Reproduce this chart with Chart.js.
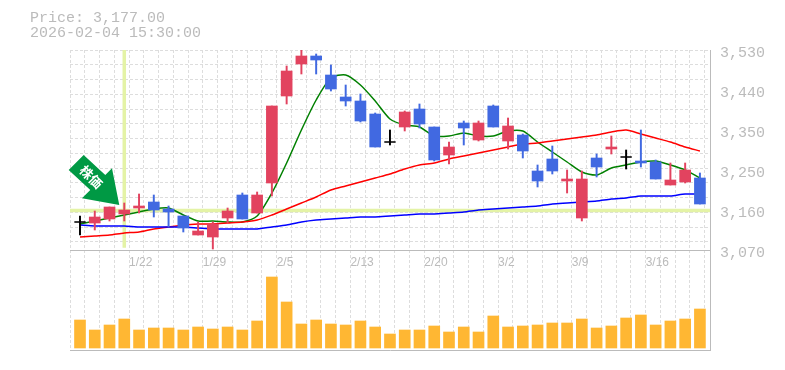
<!DOCTYPE html>
<html>
<head>
<meta charset="utf-8">
<script src="https://cdn.jsdelivr.net/npm/chart.js@4"></script>
<style>
    body { margin: 0; background: #ffffff; }
    #priceInfo {
        position: absolute;
        left: 30px;
        top: 11px;
        font: 15px/15px "Liberation Mono", monospace;
        color: #bbbbbb;
        white-space: pre;
    }
</style>
</head>
<body>
<div id="priceInfo">Price: 3,177.00
2026-02-04 15:30:00</div>
<canvas id="stockChart" width="785" height="370"></canvas>
<script>
const categories = [
    "1/16", "1/19", "1/20", "1/21", "1/22", "1/23", "1/26", "1/27", "1/28", "1/29", "1/30",
    "2/2", "2/3", "2/4", "2/5", "2/6", "2/9", "2/10", "2/12", "2/13", "2/16", "2/17",
    "2/18", "2/19", "2/20", "2/24", "2/25", "2/26", "2/27", "3/2", "3/3", "3/4", "3/5",
    "3/6", "3/9", "3/10", "3/11", "3/12", "3/13", "3/16", "3/17", "3/18", "3/19"
];

const openPrices = [
    3134.4, 3132.1, 3141.3, 3152.8, 3166.6, 3180.4, 3164.3, 3148.2, 3104.5, 3099.9, 3143.6,
    3196.5, 3155.1, 3224.1, 3424.2, 3497.8, 3516.2, 3472.5, 3421.9, 3412.7, 3382.8, 3318.4,
    3352.9, 3394.3, 3352.9, 3288.5, 3362.1, 3323, 3401.2, 3320.7, 3334.5, 3251.7, 3279.3,
    3228.7, 3143.6, 3281.6, 3302.3, 3283.9, 3274.7, 3272.4, 3219.5, 3226.4, 3235.6
];
const closePrices = [
    3134.4, 3145.9, 3168.9, 3162, 3171.2, 3162, 3157.4, 3120.6, 3113.7, 3129.8, 3159.7,
    3141.3, 3196.5, 3401.2, 3481.7, 3516.2, 3507, 3440.3, 3412.7, 3366.7, 3306.9, 3318.4,
    3387.4, 3359.8, 3277, 3306.9, 3350.6, 3362.1, 3352.9, 3355.2, 3297.7, 3228.7, 3251.7,
    3233.3, 3233.3, 3260.9, 3306.9, 3283.9, 3270.1, 3233.3, 3231, 3254, 3175.8
];
const highPrices = [
    3148.2, 3159.7, 3168.9, 3178.1, 3198.8, 3196.5, 3171.2, 3148.2, 3134.4, 3134.4, 3166.6,
    3201.1, 3203.4, 3401.2, 3493.2, 3530, 3520.8, 3495.5, 3449.5, 3428.8, 3385.1, 3346,
    3389.7, 3405.8, 3352.9, 3318.4, 3366.7, 3366.7, 3403.5, 3373.6, 3336.8, 3265.5, 3309.2,
    3254, 3251.7, 3290.8, 3332.2, 3300, 3346, 3277, 3270.1, 3270.1, 3247.1
];
const lowPrices = [
    3104.5, 3116, 3136.7, 3136.7, 3155.1, 3145.9, 3122.9, 3111.4, 3104.5, 3072.3, 3132.1,
    3141.3, 3155.1, 3194.2, 3405.8, 3474.8, 3474.8, 3435.7, 3401.2, 3364.4, 3306.9, 3311.5,
    3343.7, 3350.6, 3274.7, 3267.8, 3311.5, 3320.7, 3352.9, 3302.3, 3281.6, 3214.9, 3244.8,
    3201.1, 3136.7, 3237.9, 3290.8, 3256.3, 3260.9, 3233.3, 3219.5, 3224.1, 3175.8
];

const shortAverage = [
    3129.8, 3136.7, 3143.6, 3150.5, 3157.4, 3164.3, 3166.6, 3150.5, 3136.7, 3136.7, 3134.4,
    3134.4, 3148.2, 3201.1, 3270.1, 3346, 3415, 3465.6, 3472.5, 3449.5, 3412.7, 3371.3,
    3357.5, 3352.9, 3332.2, 3332.2, 3339.1, 3332.2, 3332.2, 3343.7, 3343.7, 3318.4, 3295.4,
    3272.4, 3249.4, 3242.5, 3258.6, 3265.5, 3272.4, 3274.7, 3265.5, 3254, 3235.6
];
const midAverage = [
    3099.9, 3102.2, 3104.5, 3109.1, 3111.4, 3118.3, 3122.9, 3127.5, 3129.8, 3129.8, 3132.1,
    3134.4, 3139, 3150.5, 3164.3, 3178.1, 3191.9, 3208, 3217.2, 3226.4, 3235.6, 3244.8,
    3256.3, 3265.5, 3270.1, 3279.3, 3286.2, 3293.1, 3300, 3306.9, 3313.8, 3316.1, 3320.7,
    3325.3, 3329.9, 3334.5, 3341.4, 3346, 3336.8, 3327.6, 3318.4, 3306.9, 3297.7
];
const longAverage = [
    3127.5, 3125.2, 3125.2, 3125.2, 3122.9, 3122.9, 3122.9, 3122.9, 3120.6, 3118.3, 3118.3,
    3118.3, 3118.3, 3122.9, 3127.5, 3134.4, 3139, 3141.3, 3143.6, 3145.9, 3145.9, 3148.2,
    3150.5, 3152.8, 3152.8, 3155.1, 3157.4, 3162, 3164.3, 3166.6, 3168.9, 3171.2, 3175.8,
    3178.1, 3180.4, 3182.7, 3187.3, 3189.6, 3194.2, 3194.2, 3194.2, 3198.8, 3198.8
];

const volumes = [
    2800, 1800, 2300, 2900, 1800, 2000, 2000, 1800, 2100, 1900, 2100,
    1800, 2700, 7100, 4600, 2400, 2800, 2400, 2300, 2700, 2100, 1400,
    1800, 1800, 2200, 1600, 2100, 1600, 3200, 2100, 2200, 2300, 2500,
    2500, 2900, 2000, 2200, 3000, 3300, 2300, 2700, 2900, 3900
];

const priceTicks = [3530, 3438, 3346, 3254, 3162, 3070];
const priceTickLabels = ["3,530", "3,440", "3,350", "3,250", "3,160", "3,070"];

const cursorIndex = 3;
const cursorPrice = 3160.9;

const RED = "#e2435f";
const BLUE = "#4169e1";
const GRID = "#dddddd";
const FRAME = "#bbbbbb";
const CURSOR = "#e4f3a6";

const PX_PER_BAR = 14.76;
const xMin = -10 / PX_PER_BAR;
const xMax = 630 / PX_PER_BAR;

function candleColor(i) {
    if (openPrices[i] === closePrices[i]) return "#000000";
    return closePrices[i] > openPrices[i] ? RED : BLUE;
}

function lineDataset(values, color) {
    return {
        type: "line",
        data: values.map((v, i) => ({ x: i, y: v })),
        borderColor: color,
        borderWidth: 1.5,
        pointRadius: 0,
        tension: 0.25,
        order: 5
    };
}

const framePlugin = {
    id: "frame",
    beforeDatasetsDraw(chart) {
        const { ctx, chartArea, scales } = chart;
        const midY = Math.round(scales.y.getPixelForValue(3070)) + 0.5;
        ctx.save();
        ctx.strokeStyle = FRAME;
        ctx.lineWidth = 1;
        ctx.beginPath();
        ctx.moveTo(chartArea.left, midY);
        ctx.lineTo(chartArea.right, midY);
        ctx.moveTo(chartArea.left, chartArea.bottom + 0.5);
        ctx.lineTo(chartArea.right + 1, chartArea.bottom + 0.5);
        ctx.moveTo(chartArea.right + 0.5, chartArea.top);
        ctx.lineTo(chartArea.right + 0.5, chartArea.bottom);
        ctx.stroke();
        ctx.restore();
    }
};

// green marker pointing at the selected candle
const arrowPlugin = {
    id: "arrow",
    afterDatasetsDraw(chart) {
        const { ctx, scales } = chart;
        const tipX = scales.x.getPixelForValue(cursorIndex) - 5;
        const tipY = scales.y.getPixelForValue(highPrices[cursorIndex]) + 2;
        const shape = [[-50.6, -35], [-35.6, -50], [-14, -30], [-7.3, -36.7], [0, 0], [-37.3, -6.7], [-29, -15]];

        ctx.save();
        ctx.translate(tipX, tipY);
        ctx.fillStyle = "#009944";
        ctx.beginPath();
        shape.forEach(p => ctx.lineTo(p[0], p[1]));
        ctx.closePath();
        ctx.fill();

        ctx.translate(-28, -28);
        ctx.rotate(Math.PI / 4);
        ctx.fillStyle = "#ffffff";
        ctx.font = 'bold 13px "Noto Sans CJK JP"';
        ctx.textAlign = "center";
        ctx.textBaseline = "middle";
        ctx.fillText("株価", 0, 0);
        ctx.restore();
    }
};

const ctx = document.getElementById("stockChart").getContext("2d");

new Chart(ctx, {
    data: {
        datasets: [
            {
                type: "line",
                data: [{ x: xMin, y: cursorPrice }, { x: xMax, y: cursorPrice }],
                borderColor: CURSOR,
                borderWidth: 3.5,
                pointRadius: 0,
                order: 10
            },
            {
                type: "line",
                data: [{ x: cursorIndex, y: 3530 }, { x: cursorIndex, y: 3075 }],
                borderColor: CURSOR,
                borderWidth: 3.5,
                pointRadius: 0,
                order: 10
            },
            {
                type: "bar",
                yAxisID: "yVol",
                data: volumes.map((v, i) => ({ x: i, y: v })),
                backgroundColor: "#ffb733",
                barThickness: 11,
                grouped: false,
                order: 8
            },
            lineDataset(longAverage, "#0000ff"),
            lineDataset(midAverage, "#ff0000"),
            lineDataset(shortAverage, "#008000"),
            {
                type: "bar",
                data: categories.map((c, i) => ({ x: i, y: [lowPrices[i], highPrices[i]] })),
                backgroundColor: categories.map((c, i) => candleColor(i)),
                barThickness: 1.3,
                grouped: false,
                order: 3
            },
            {
                type: "bar",
                data: categories.map((c, i) => ({ x: i, y: [openPrices[i], closePrices[i]] })),
                backgroundColor: categories.map((c, i) => candleColor(i)),
                barThickness: 11,
                grouped: false,
                order: 2
            },
            {
                // doji candles have no body, only a flat mark
                type: "line",
                data: categories
                    .map((c, i) => ({ x: i, y: closePrices[i] }))
                    .filter(p => openPrices[p.x] === closePrices[p.x]),
                showLine: false,
                pointStyle: "line",
                pointRadius: 5.5,
                pointBorderWidth: 1.3,
                pointBorderColor: "#000000",
                order: 1
            }
        ]
    },
    options: {
        responsive: false,
        animation: false,
        events: [],
        layout: {
            padding: { left: 70, top: 50, right: 0, bottom: 20 }
        },
        plugins: {
            legend: { display: false },
            tooltip: { enabled: false }
        },
        scales: {
            x: {
                type: "linear",
                min: xMin,
                max: xMax,
                offset: false,
                position: { y: 3070 },
                afterBuildTicks(axis) {
                    axis.ticks = categories.map((c, k) => ({ value: xMin + k }));
                    axis.ticks.push({ value: xMin + categories.length });
                },
                ticks: {
                    autoSkip: false,
                    maxRotation: 0,
                    align: "start",
                    padding: 5,
                    color: "#bbbbbb",
                    font: { family: "Liberation Sans", size: 12 },
                    callback: (value, k) => (k % 5 === 4 ? categories[k] : "")
                },
                grid: { color: GRID, drawTicks: false, offset: false },
                border: { display: false, dash: [3, 2] }
            },
            y: {
                min: 2840,
                max: 3530,
                position: "right",
                afterBuildTicks(axis) {
                    axis.ticks = priceTicks.map(v => ({ value: v }));
                },
                afterFit(axis) {
                    axis.width = 75;
                },
                ticks: {
                    padding: 10,
                    labelOffset: 3,
                    color: "#bbbbbb",
                    font: { family: "Liberation Mono", size: 15 },
                    callback: (value, k) => priceTickLabels[k]
                },
                grid: { display: false, drawTicks: false },
                border: { display: false }
            },
            gridY: {
                min: 2840,
                max: 3530,
                position: "right",
                afterBuildTicks(axis) {
                    const step = PX_PER_BAR * 2.3;
                    const list = [];
                    for (let v = 3530; v >= 3070; v -= step) list.push({ value: v });
                    axis.ticks = list;
                },
                afterFit(axis) {
                    axis.width = 0;
                },
                ticks: { display: false },
                grid: { color: GRID, drawTicks: false },
                border: { display: false, dash: [3, 2] }
            },
            yVol: {
                display: false,
                min: -200,
                max: 29800
            }
        }
    },
    plugins: [framePlugin, arrowPlugin]
});
</script>
</body>
</html>
